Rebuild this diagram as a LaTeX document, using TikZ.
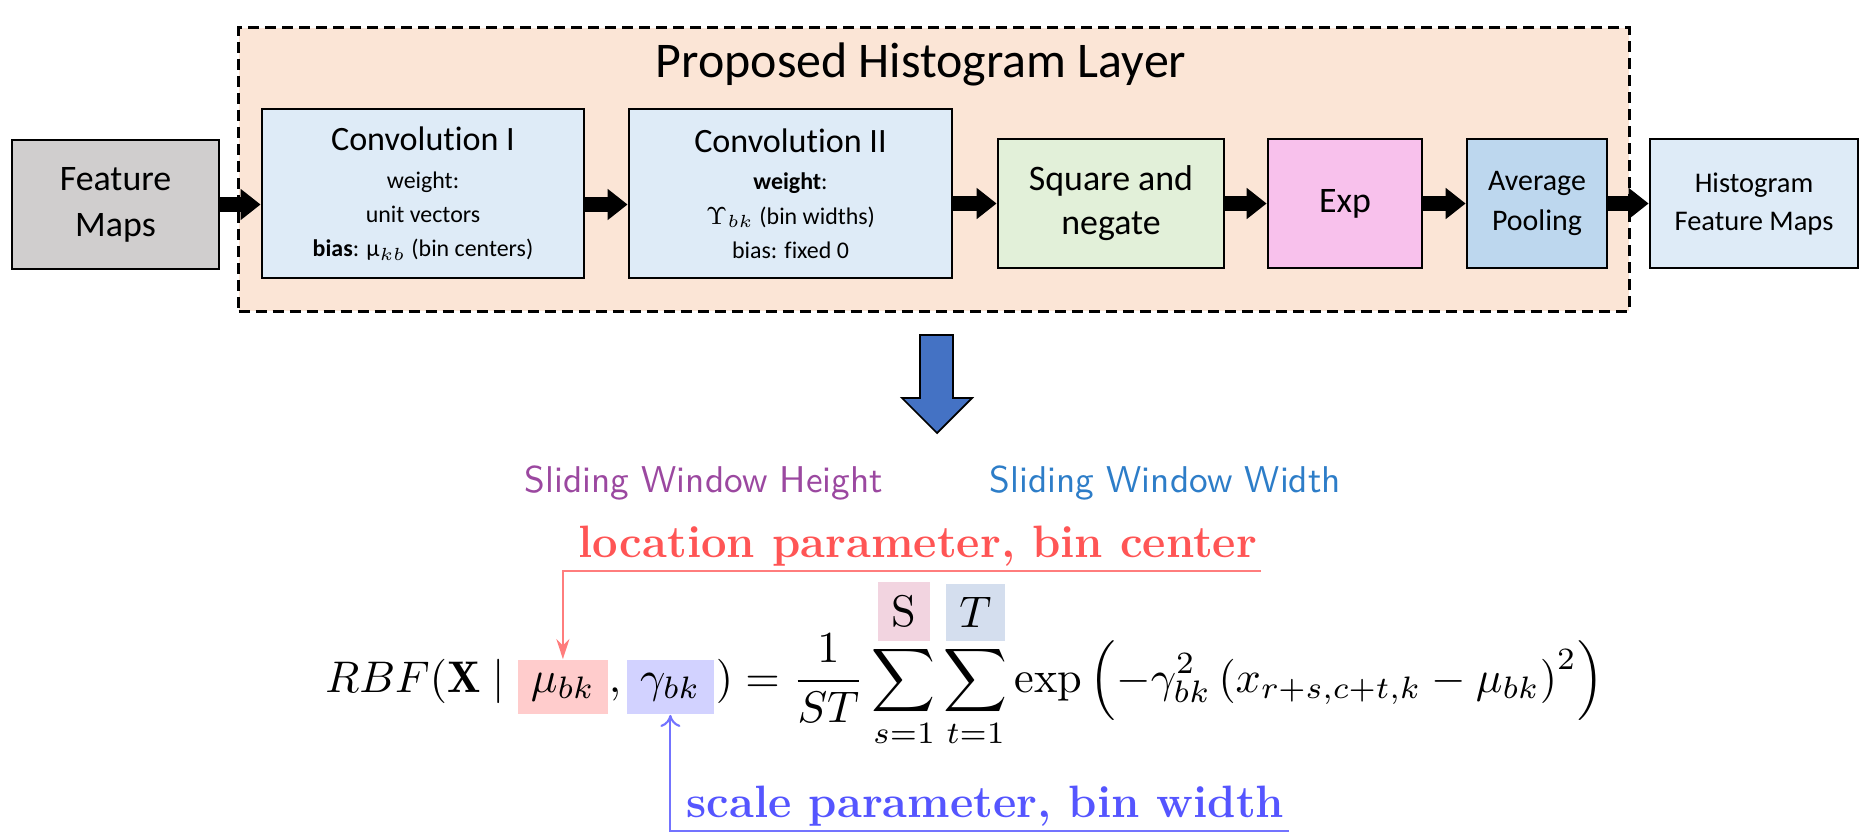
\documentclass[tikz,border=0pt]{standalone}
\usepackage{amsmath}
\usepackage{fontspec}
\newfontfamily\boxfont[Ligatures=NoCommon]{Carlito}
\usetikzlibrary{arrows.meta}
\usetikzlibrary{calc}
\definecolor{mapgray}{RGB}{208,206,206}
\definecolor{layerfill}{RGB}{251,229,214}
\definecolor{convblue}{RGB}{222,235,247}
\definecolor{sqgreen}{RGB}{226,240,217}
\definecolor{exppink}{RGB}{248,193,236}
\definecolor{poolblue}{RGB}{189,215,238}
\definecolor{arrowblue}{RGB}{68,114,196}
\definecolor{heightpurple}{RGB}{155,72,160}
\definecolor{widthblue}{RGB}{45,125,200}
\definecolor{locred}{RGB}{255,85,85}
\definecolor{loclight}{RGB}{255,125,125}
\definecolor{scaleblue}{RGB}{85,85,255}
\definecolor{scalelight}{RGB}{115,115,255}
\definecolor{mushade}{RGB}{255,204,204}
\definecolor{gammashade}{RGB}{210,210,255}
\definecolor{sshade}{RGB}{242,212,224}
\definecolor{tshade}{RGB}{212,222,238}
\setlength{\fboxsep}{3pt}

\begin{document}
\begin{tikzpicture}[x=0.01cm, y=-0.01cm,
  blk/.style={draw=black, line width=0.75pt, align=center, inner sep=0pt},
  flow/.style={line width=0.15cm, -{Triangle[length=0.2cm,width=0.3cm]}},
  fml/.style={scale=1.26, inner sep=0pt},
  shade/.style={fml, anchor=base west, text depth=0.1746cm, text height=0.254cm},
  note/.style={anchor=base west, inner sep=0pt}]
      
      \useasboundingbox (0,0) rectangle (1876,839);
      
      % histogram layer
      \node[draw=black, line width=0.85pt, dash pattern=on 0.11cm off 0.06cm, fill=layerfill,
        minimum width=13.9cm, minimum height=2.83cm] (layer) at (934,169.5) {};
      \node[anchor=base, inner sep=0pt, font=\boxfont\fontsize{14.2}{16}\selectfont] (title) at (921,77)
      {Proposed Histogram Layer};
      
      \node[blk, fill=mapgray, minimum width=2.07cm, minimum height=1.29cm,
        font=\boxfont\fontsize{10.2}{13.1}\selectfont] (fm) at (115.5,204.5) {Feature\\Maps};
      
      \node[blk, fill=convblue, minimum width=3.22cm, minimum height=1.69cm,
        font=\boxfont\fontsize{6.8}{9.7}\selectfont] (conv1) at (423,193.5)
      {{\fontsize{9.7}{9.7}\selectfont Convolution I}\\[1pt] weight:\\ unit vectors\\ \textbf{bias}: μ$_{kb}$ (bin centers)};
      \node[blk, fill=convblue, minimum width=3.23cm, minimum height=1.69cm,
        font=\boxfont\fontsize{6.8}{9.7}\selectfont] (conv2) at (790.5,193.5)
      {{\fontsize{9.7}{9.7}\selectfont Convolution II}\\[1pt] \textbf{weight}:\\ $\Upsilon_{bk}$ (bin widths)\\ bias: fixed 0};
      
      \node[blk, fill=sqgreen, minimum width=2.26cm, minimum height=1.29cm,
        font=\boxfont\fontsize{10.2}{12.5}\selectfont] (sq) at (1111,203.5) {Square and\\negate};
      \node[blk, fill=exppink, minimum width=1.54cm, minimum height=1.29cm,
        font=\boxfont\fontsize{10.2}{12.5}\selectfont] (expb) at (1345,203.5) {Exp};
      \node[blk, fill=poolblue, minimum width=1.40cm, minimum height=1.29cm,
        font=\boxfont\fontsize{8.5}{11.4}\selectfont] (pool) at (1537,203.5) {Average\\Pooling};
      \node[blk, fill=convblue, minimum width=2.08cm, minimum height=1.29cm,
        font=\boxfont\fontsize{8.1}{10.8}\selectfont] (hist) at (1754,203.5) {Histogram\\Feature Maps};
      
      \draw[flow] (fm.east) -- (fm.east -| conv1.west);
      \draw[flow] (conv1.east |- fm.east) -- (conv2.west |- fm.east);
      \draw[flow] (sq.west -| conv2.east) -- (sq.west);
      \draw[flow] (sq.east) -- (expb.west);
      \draw[flow] (expb.east) -- (pool.west);
      \draw[flow] (pool.east) -- (hist.west);
      
      % down arrow
      \draw[fill=arrowblue, line width=0.5pt] (920,335) -- (953,335) -- (953,398) -- (972,398)
        -- (937,433) -- (902,398) -- (920,398) -- cycle;
      
      % window labels
      \node[note, text=heightpurple, font=\sffamily\fontsize{10.6}{12}\selectfont] (winh) at (524,492)
      {Sliding Window Height};
      \node[note, text=widthblue, font=\sffamily\fontsize{10.6}{12}\selectfont] (winw) at (989,492)
      {Sliding Window Width};
      
      % formula
      \node[fml, anchor=base east] (rbf) at (506,692) {$RBF(\mathbf{X}\mid$};
      \node[shade, fill=mushade, minimum width=0.714cm] (mu) at (517,692) {$\mu_{bk}$};
      \node[fml, anchor=base] (comma) at (615,692) {$,$};
      \node[shade, fill=gammashade, minimum width=0.69cm] (gamma) at (626,692) {$\gamma_{bk}$};
      \node[fml, anchor=base west] (rhs) at (715,692)
      {$\displaystyle )=\frac{1}{ST}\sum_{s=1}^{\colorbox{sshade}{$\mathrm{S}$}}\sum_{t=1}^{\colorbox{tshade}{$T$}}
        \exp\left(-\gamma_{bk}^2\left(x_{r+s,c+t,k}-\mu_{bk}\right)^2\right)$};
      
      % parameter labels
      \node[note, text=locred, font=\bfseries\fontsize{12.9}{15}\selectfont] (loc) at (578,557)
      {location parameter, bin center};
      \coordinate (locend) at (1261,571);
      \draw[loclight, line width=0.6pt, -{Stealth[length=0.2cm,width=0.13cm]}] (locend) -| (mu.north);
      
      \node[note, text=scaleblue, font=\bfseries\fontsize{12.9}{15}\selectfont] (scale) at (686,817)
      {scale parameter, bin width};
      \coordinate (scaleend) at (1289,831);
      \draw[scalelight, line width=0.6pt, -{To[length=0.12cm,width=0.2cm]}] (scaleend) -| (gamma.south);
      
\end{tikzpicture}
\end{document}
